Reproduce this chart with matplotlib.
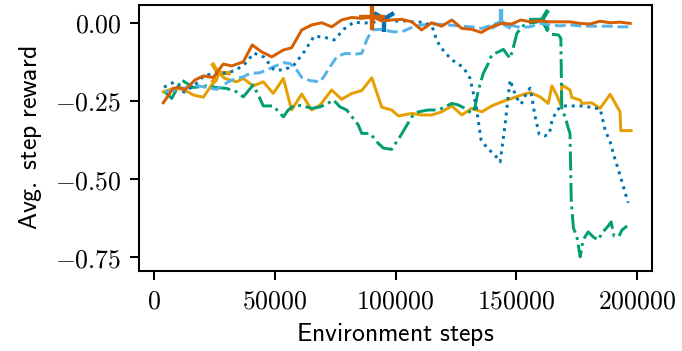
import numpy as np
import matplotlib
matplotlib.use('Agg')
import matplotlib.pyplot as plt
from matplotlib.ticker import FormatStrFormatter

plt.rcParams['mathtext.fontset'] = 'cm'
plt.rcParams['font.size'] = 10

# evaluation curves, one per run
steps_vermillion = [3900, 8000, 10800, 12900, 17000, 20500, 24600, 28700, 32200, 37000,
                    40700, 44600, 48800, 53600, 57000, 61200, 65300, 69500, 73600, 77700,
                    81900, 86000, 90200, 94300, 98400, 102600, 106700, 110800, 115000, 119100,
                    123300, 127400, 131500, 135400, 139800, 144000, 148100, 151900, 155700, 159800,
                    163900, 168100, 172200, 176400, 180500, 184600, 188800, 192900, 197100]
reward_vermillion = [-0.256, -0.210, -0.207, -0.215, -0.183, -0.170, -0.175, -0.132, -0.138, -0.125,
                     -0.071, -0.093, -0.109, -0.087, -0.080, -0.023, -0.007, 0.000, -0.013, 0.009,
                     0.017, 0.014, 0.020, 0.006, 0.009, 0.011, 0.003, -0.023, 0.000, -0.011,
                     0.009, -0.018, -0.021, -0.031, -0.013, -0.002, -0.004, 0.009, 0.003, 0.006,
                     0.003, 0.003, 0.003, -0.002, -0.004, 0.005, 0.000, 0.002, -0.002]

steps_blue = [4200, 8300, 12500, 16600, 20700, 24900, 29000, 33200, 37300, 41400,
              45600, 49700, 53900, 58000, 62100, 66300, 70400, 74600, 78700, 82800,
              87000, 91100, 95300, 99400, 103500, 107700, 111800, 115100, 117200, 120500,
              124600, 128000, 130800, 133300, 134600, 135400, 138300, 140800, 143300, 145300,
              147400, 149900, 152000, 154400, 155700, 157800, 159400, 161500, 163600, 164800,
              166900, 168900, 172200, 176400, 180500, 184700, 186700, 188800, 190900, 192900,
              195000, 196300]
reward_blue = [-0.206, -0.190, -0.222, -0.202, -0.170, -0.161, -0.161, -0.154, -0.135, -0.097,
               -0.110, -0.151, -0.151, -0.135, -0.094, -0.043, -0.046, -0.055, -0.020, 0.002,
               -0.001, 0.002, 0.012, 0.005, 0.006, 0.002, 0.002, -0.011, -0.059, -0.097,
               -0.126, -0.142, -0.177, -0.263, -0.333, -0.375, -0.404, -0.420, -0.445, -0.327,
               -0.183, -0.238, -0.260, -0.222, -0.209, -0.301, -0.356, -0.362, -0.356, -0.311,
               -0.279, -0.266, -0.266, -0.266, -0.270, -0.276, -0.343, -0.381, -0.439, -0.487,
               -0.544, -0.576]

steps_sky = [4600, 8700, 13600, 16300, 21900, 26000, 30800, 34300, 37000, 39800,
             43900, 46700, 49400, 53600, 56300, 59100, 61200, 64600, 68800, 70800,
             72900, 75700, 79100, 83900, 86000, 88100, 90200, 93600, 99100, 102600,
             106700, 110800, 116400, 121900, 127400, 131500, 135700, 139800, 143700, 147400,
             151500, 155700, 159800, 163900, 168100, 172200, 176400, 180500, 184600, 188800,
             192900, 197100]
reward_sky = [-0.221, -0.215, -0.207, -0.199, -0.207, -0.213, -0.189, -0.178, -0.173, -0.162,
              -0.160, -0.151, -0.141, -0.128, -0.130, -0.151, -0.175, -0.185, -0.189, -0.167,
              -0.141, -0.109, -0.098, -0.100, -0.098, -0.055, -0.023, -0.021, -0.029, -0.029,
              -0.015, -0.007, -0.004, -0.007, -0.011, -0.013, -0.018, -0.007, 0.003, -0.007,
              -0.015, -0.013, -0.002, -0.007, -0.010, -0.007, -0.010, -0.011, -0.011, -0.011,
              -0.013, -0.013]

steps_green = [4600, 7400, 11500, 16300, 21900, 26000, 30100, 34300, 37000, 41100,
               43200, 45300, 49400, 53600, 55600, 58400, 61800, 65300, 68800, 71500,
               74300, 77000, 79800, 84600, 86000, 89500, 92900, 95000, 98400, 100500,
               101900, 103900, 106700, 109400, 113600, 117700, 120500, 123300, 126000, 128800,
               131500, 132900, 134300, 136300, 138400, 139800, 142600, 144600, 146000, 147400,
               148800, 150200, 152200, 154300, 158400, 160500, 162600, 164700, 167400, 168400,
               168800, 170200, 171500, 172200, 172700, 173600, 175000, 176400, 177600, 179700,
               181800, 183800, 185500, 188000, 189200, 190400, 192500, 193700, 195800]
reward_green = [-0.221, -0.242, -0.183, -0.207, -0.202, -0.207, -0.210, -0.221, -0.237, -0.199,
                -0.231, -0.266, -0.266, -0.301, -0.279, -0.263, -0.266, -0.274, -0.269, -0.260,
                -0.247, -0.269, -0.279, -0.327, -0.354, -0.354, -0.386, -0.401, -0.405, -0.380,
                -0.364, -0.338, -0.301, -0.285, -0.279, -0.279, -0.269, -0.258, -0.263, -0.274,
                -0.290, -0.269, -0.215, -0.162, -0.130, -0.103, -0.093, -0.085, -0.100, -0.114,
                -0.077, -0.034, -0.013, -0.002, 0.002, 0.009, -0.023, -0.037, -0.039, -0.050,
                -0.279, -0.301, -0.338, -0.354, -0.567, -0.657, -0.682, -0.749, -0.695, -0.669,
                -0.685, -0.695, -0.672, -0.650, -0.637, -0.682, -0.682, -0.663, -0.650]

steps_orange = [3900, 8000, 12200, 16300, 20500, 23900, 26000, 26700, 29400, 31500,
                34300, 37000, 41100, 45300, 49400, 53600, 57000, 61200, 65300, 68800,
                73600, 77700, 81900, 86000, 90200, 94300, 98400, 101200, 106700, 110800,
                115000, 119100, 123300, 127400, 131500, 135700, 139800, 144000, 148100, 152200,
                155700, 159800, 163200, 164700, 166700, 168500, 168800, 172200, 172900, 176400,
                177100, 181200, 184600, 188800, 192900, 193200, 197500]
reward_orange = [-0.221, -0.210, -0.213, -0.231, -0.238, -0.199, -0.183, -0.160, -0.178, -0.183,
                 -0.189, -0.178, -0.202, -0.189, -0.226, -0.178, -0.279, -0.228, -0.279, -0.263,
                 -0.215, -0.245, -0.226, -0.217, -0.176, -0.270, -0.279, -0.298, -0.290, -0.295,
                 -0.295, -0.285, -0.266, -0.295, -0.274, -0.285, -0.266, -0.253, -0.242, -0.231,
                 -0.223, -0.237, -0.258, -0.202, -0.231, -0.266, -0.199, -0.215, -0.239, -0.247,
                 -0.258, -0.256, -0.274, -0.229, -0.285, -0.345, -0.345]

runs = [
    (steps_orange, reward_orange, '#E69F00', '-', '4'),
    (steps_green, reward_green, '#009E73', '-.', '3'),
    (steps_sky, reward_sky, '#56B4E9', '--', '2'),
    (steps_blue, reward_blue, '#0072B2', ':', '1'),
    (steps_vermillion, reward_vermillion, '#D55E00', '-', '+'),
]

fig, ax = plt.subplots(figsize=(682 / 185, 351 / 185), dpi=185)
fig.subplots_adjust(left=0.2043, right=0.9556, top=0.985, bottom=0.228)

for x, y, c, ls, m in runs:
    ax.plot(x, y, color=c, ls=ls, lw=1.15)
    # mark the best evaluation of each run
    best = int(np.argmax(y))
    ax.plot(x[best], y[best], marker=m, color=c, ms=10, mew=1.7, ls='none')

ax.set_xlim(-6000, 206000)
ax.set_ylim(-0.794, 0.056)
ax.set_xticks([0, 50000, 100000, 150000, 200000])
ax.set_yticks([-0.75, -0.5, -0.25, 0.0])
ax.xaxis.set_major_formatter(FormatStrFormatter(r'$%d$'))
ax.yaxis.set_major_formatter(FormatStrFormatter(r'$%.2f$'))
ax.set_xlabel(r'$\mathsf{Environment\ steps}$', labelpad=2.5)
ax.set_ylabel(r'$\mathsf{Avg.\ step\ reward}$')

fig.savefig('out.png', dpi=185)
